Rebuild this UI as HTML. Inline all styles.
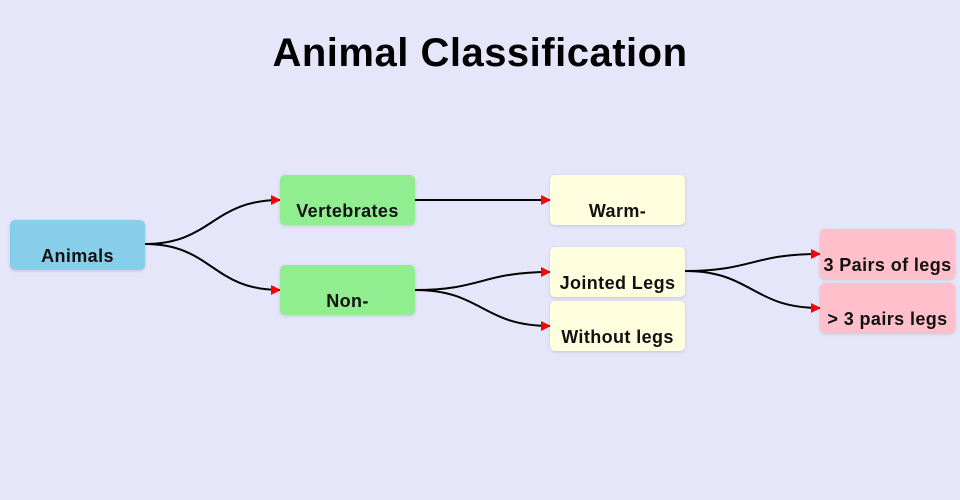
<!DOCTYPE html>
<html><head><meta charset="utf-8"><style>
body{margin:0;width:960px;height:500px;background:#e6e6fa;position:relative;overflow:hidden;font-family:"Liberation Sans",sans-serif}
h1{position:absolute;top:31px;left:0;width:960px;margin:0;text-align:center;font-size:40px;letter-spacing:0.5px;font-weight:bold;color:#000}
.n{position:absolute;width:135px;height:50px;border-radius:5px;box-shadow:0 1px 3px rgba(0,0,0,0.15);font-weight:bold;font-size:18px;letter-spacing:0.4px;text-align:center;box-sizing:border-box;padding-top:26px;color:#111;white-space:nowrap}
.b{background:#87ceeb}.g{background:#90ee90}.y{background:#ffffe0}.p{background:#ffc0cb}
svg{position:absolute;left:0;top:0}
</style></head><body>
<h1>Animal Classification</h1>
<svg width="960" height="500">
<defs><marker id="a" markerWidth="10" markerHeight="10" refX="9" refY="5" orient="auto" markerUnits="userSpaceOnUse"><path d="M0,0L10,5L0,10z" fill="red"/></marker></defs>
<g fill="none" stroke="#000" stroke-width="2">
<path d="M145,244C212,244 212,200 280,200" marker-end="url(#a)"/>
<path d="M145,244C212,244 212,290 280,290" marker-end="url(#a)"/>
<path d="M415,200L550,200" marker-end="url(#a)"/>
<path d="M415,290C482,290 482,272 550,272" marker-end="url(#a)"/>
<path d="M415,290C482,290 482,326 550,326" marker-end="url(#a)"/>
<path d="M685,271C752,271 752,254 820,254" marker-end="url(#a)"/>
<path d="M685,271C752,271 752,308 820,308" marker-end="url(#a)"/>
</g></svg>
<div class="n b" style="left:10px;top:220px">Animals</div>
<div class="n g" style="left:280px;top:175px">Vertebrates</div>
<div class="n g" style="left:280px;top:265px">Non-</div>
<div class="n y" style="left:550px;top:175px">Warm-</div>
<div class="n y" style="left:550px;top:247px">Jointed Legs</div>
<div class="n y" style="left:550px;top:301px">Without legs</div>
<div class="n p" style="left:820px;top:229px">3 Pairs of legs</div>
<div class="n p" style="left:820px;top:283px">&gt; 3 pairs legs</div>
</body></html>
